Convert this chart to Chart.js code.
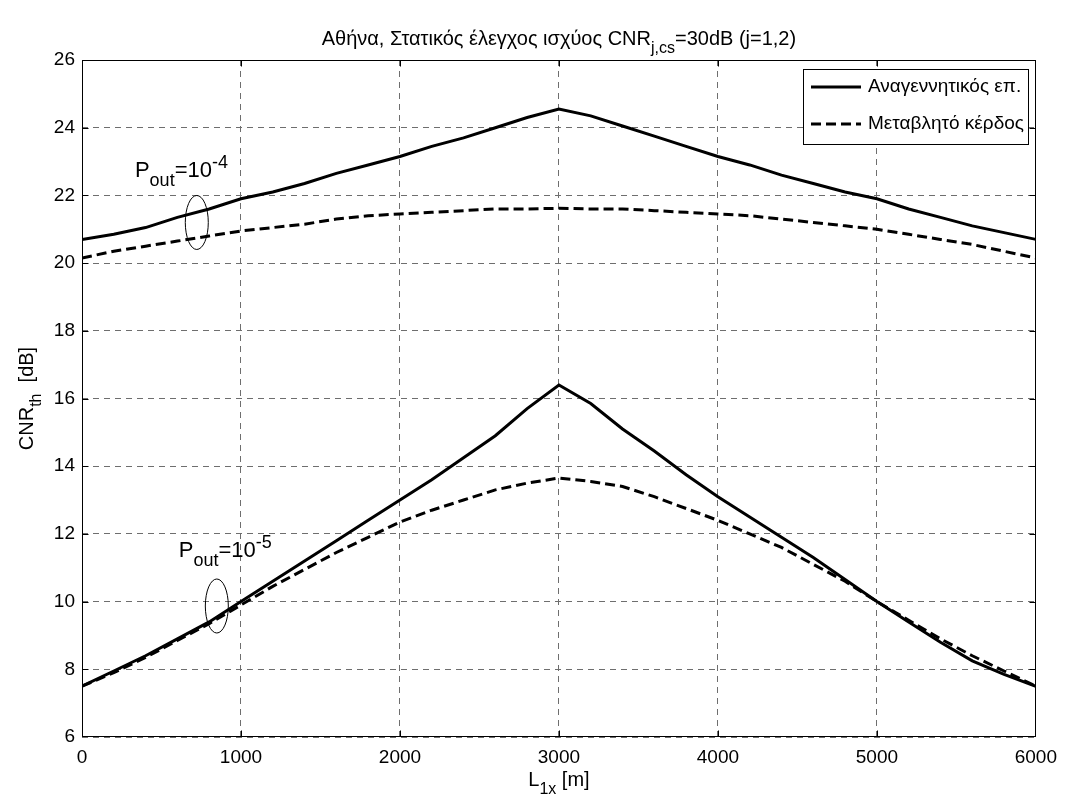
<!DOCTYPE html>
<html>
<head>
<meta charset="utf-8">
<script src="https://cdn.jsdelivr.net/npm/chart.js@4"></script>
<style>
  body { margin: 0; background: #fff; }
  #wrap { width: 1066px; height: 805px; }
</style>
</head>
<body>
<div id="wrap"><canvas id="chart" width="1066" height="805"></canvas></div>
<script>
// distance L1x [m]
const distance = [0, 200, 400, 600, 800, 1000, 1200, 1400, 1600, 1800, 2000, 2200, 2400, 2600, 2800, 3000,
  3200, 3400, 3600, 3800, 4000, 4200, 4400, 4600, 4800, 5000, 5200, 5400, 5600, 5800, 6000];

// Pout = 1e-4
const regenHigh = [20.7, 20.85, 21.05, 21.35, 21.6, 21.9, 22.1, 22.35, 22.65, 22.9, 23.15, 23.45, 23.7, 24.0, 24.3, 24.55,
  24.35, 24.05, 23.75, 23.45, 23.15, 22.9, 22.6, 22.35, 22.1, 21.9, 21.6, 21.35, 21.1, 20.9, 20.7];
const varGainHigh = [20.15, 20.35, 20.5, 20.65, 20.8, 20.95, 21.05, 21.15, 21.3, 21.4, 21.45, 21.5, 21.55, 21.6, 21.6, 21.62,
  21.6, 21.6, 21.55, 21.5, 21.45, 21.4, 21.3, 21.2, 21.1, 21.0, 20.85, 20.7, 20.55, 20.35, 20.15];

// Pout = 1e-5
const regenLow = [7.5, 7.95, 8.4, 8.9, 9.4, 10.0, 10.6, 11.2, 11.8, 12.4, 13.0, 13.6, 14.25, 14.9, 15.7, 16.4,
  15.85, 15.1, 14.45, 13.75, 13.1, 12.5, 11.9, 11.3, 10.65, 10.0, 9.4, 8.8, 8.25, 7.85, 7.5];
const varGainLow = [7.5, 7.9, 8.35, 8.85, 9.35, 9.9, 10.45, 10.95, 11.45, 11.9, 12.35, 12.7, 13.0, 13.3, 13.5, 13.65,
  13.55, 13.4, 13.1, 12.75, 12.4, 12.0, 11.6, 11.1, 10.6, 10.0, 9.45, 8.9, 8.4, 7.95, 7.5];

const xTicks = [0, 1000, 2000, 3000, 4000, 5000, 6000];
const yTicks = [6, 8, 10, 12, 14, 16, 18, 20, 22, 24, 26];

const legendLabels = ['Αναγεννητικός επ.', 'Μεταβλητό κέρδος'];

// annotation anchors (data units): label start, ellipse centre
const noteLabels = [['-4', 333, 22.54], ['-5', 609, 11.32]];
const noteEllipses = [[722, 21.2], [848, 9.87]];

const FONT = '"Liberation Sans", Arial, sans-serif';
const solid = [];
const dashed = [10, 5];

const toXY = (ys) => distance.map((d, i) => ({ x: d, y: ys[i] }));

// draw text with sub/superscripts, parts = [[text, 0 normal | 1 sub | 2 sup]]
function rich(ctx, parts, x, y, size, align) {
  const small = Math.round(size * 0.8);
  let total = 0;
  parts.forEach(([t, m]) => {
    ctx.font = (m ? small : size) + 'px ' + FONT;
    total += ctx.measureText(t).width;
  });
  let cx = align === 'center' ? x - total / 2 : x;
  ctx.textAlign = 'left';
  ctx.textBaseline = 'alphabetic';
  parts.forEach(([t, m]) => {
    ctx.font = (m ? small : size) + 'px ' + FONT;
    const dy = m === 1 ? size * 0.4 : m === 2 ? -size * 0.42 : 0;
    ctx.fillText(t, cx, y + dy);
    cx += ctx.measureText(t).width;
  });
}

const decorations = {
  id: 'decorations',
  afterDraw(chart) {
    const { ctx, chartArea: a, scales } = chart;
    const xs = scales.x, ys = scales.y;
    const L = Math.round(a.left) + 0.5, R = Math.round(a.right) - 0.5;
    const T = Math.round(a.top) + 0.5, B = Math.round(a.bottom) - 0.5;
    ctx.save();

    // frame and inward ticks
    ctx.strokeStyle = '#000';
    ctx.lineWidth = 1;
    ctx.setLineDash([]);
    ctx.strokeRect(L, T, R - L, B - T);
    ctx.beginPath();
    xTicks.slice(1, -1).forEach(v => {
      const px = Math.round(xs.getPixelForValue(v)) + 0.5;
      ctx.moveTo(px, B); ctx.lineTo(px, B - 6);
      ctx.moveTo(px, T); ctx.lineTo(px, T + 6);
    });
    yTicks.slice(1, -1).forEach(v => {
      const py = Math.round(ys.getPixelForValue(v)) + 0.5;
      ctx.moveTo(L, py); ctx.lineTo(L + 6, py);
      ctx.moveTo(R, py); ctx.lineTo(R - 6, py);
    });
    ctx.stroke();

    ctx.fillStyle = '#000';
    // title
    rich(ctx, [['Αθήνα, Στατικός έλεγχος ισχύος CNR', 0], ['j,cs', 1], ['=30dB (j=1,2)', 0]],
      (a.left + a.right) / 2, 45, 20, 'center');
    // x title
    rich(ctx, [['L', 0], ['1x', 1], [' [m]', 0]], (a.left + a.right) / 2, 786, 20, 'center');
    // y title
    ctx.save();
    ctx.translate(33, (a.top + a.bottom) / 2);
    ctx.rotate(-Math.PI / 2);
    rich(ctx, [['CNR', 0], ['th', 1], ['  [dB]', 0]], 0, 0, 20, 'center');
    ctx.restore();

    // outage annotations
    noteLabels.forEach(([exp, dx, dy]) => {
      rich(ctx, [['P', 0], ['out', 1], ['=10', 0], [exp, 2]],
        xs.getPixelForValue(dx), ys.getPixelForValue(dy), 22, 'left');
    });
    ctx.lineWidth = 1;
    noteEllipses.forEach(([dx, dy]) => {
      ctx.beginPath();
      ctx.ellipse(xs.getPixelForValue(dx), ys.getPixelForValue(dy), 11.5, 27, 0, 0, Math.PI * 2);
      ctx.stroke();
    });

    // legend box
    ctx.font = '19px ' + FONT;
    const tw = Math.max(...legendLabels.map(t => ctx.measureText(t).width));
    const right = 1028, top = 69, h = 75;
    const w = 65 + tw + 4;
    const left = Math.round(right - w);
    ctx.fillStyle = '#fff';
    ctx.fillRect(left, top, right - left, h);
    ctx.strokeStyle = '#000';
    ctx.lineWidth = 1;
    ctx.strokeRect(left + 0.5, top + 0.5, right - left, h);
    [solid, dashed].forEach((dash, i) => {
      const ry = top + 18 + i * 37;
      ctx.setLineDash(dash);
      ctx.lineWidth = 3;
      ctx.beginPath();
      ctx.moveTo(left + 8, ry);
      ctx.lineTo(left + 58, ry);
      ctx.stroke();
      ctx.setLineDash([]);
      ctx.fillStyle = '#000';
      ctx.font = '19px ' + FONT;
      ctx.textBaseline = 'middle';
      ctx.textAlign = 'left';
      ctx.fillText(legendLabels[i], left + 65, ry);
    });
    ctx.restore();
  }
};

const series = (data, dash) => ({
  data: toXY(data),
  borderColor: '#000',
  borderWidth: 3,
  borderDash: dash,
  pointRadius: 0,
  showLine: true,
  tension: 0,
  fill: false,
});

new Chart(document.getElementById('chart').getContext('2d'), {
  type: 'scatter',
  data: {
    datasets: [
      series(regenHigh, solid),
      series(varGainHigh, dashed),
      series(regenLow, solid),
      series(varGainLow, dashed),
    ],
  },
  options: {
    responsive: false,
    animation: false,
    layout: { padding: { top: 60, right: 29, left: 0, bottom: 0 } },
    plugins: {
      legend: { display: false },
      title: { display: false },
      tooltip: { enabled: false },
    },
    scales: {
      x: {
        type: 'linear',
        min: 0,
        max: 6000,
        afterFit: (s) => { s.height = 68; },
        afterBuildTicks: (s) => { s.ticks = xTicks.map(v => ({ value: v })); },
        ticks: {
          color: '#000', font: { family: FONT, size: 19 }, padding: 9, maxRotation: 0,
          callback: (v) => String(v),
        },
        grid: { color: '#6e6e6e', lineWidth: 1, tickLength: 0 },
        border: { display: false, dash: [6, 5] },
      },
      y: {
        min: 6,
        max: 26,
        afterFit: (s) => { s.width = 82; },
        afterBuildTicks: (s) => { s.ticks = yTicks.map(v => ({ value: v })); },
        ticks: { color: '#000', font: { family: FONT, size: 19 }, padding: 7, callback: (v) => String(v) },
        grid: { color: '#6e6e6e', lineWidth: 1, tickLength: 0 },
        border: { display: false, dash: [6, 5] },
      },
    },
  },
  plugins: [decorations],
});
</script>
</body>
</html>
